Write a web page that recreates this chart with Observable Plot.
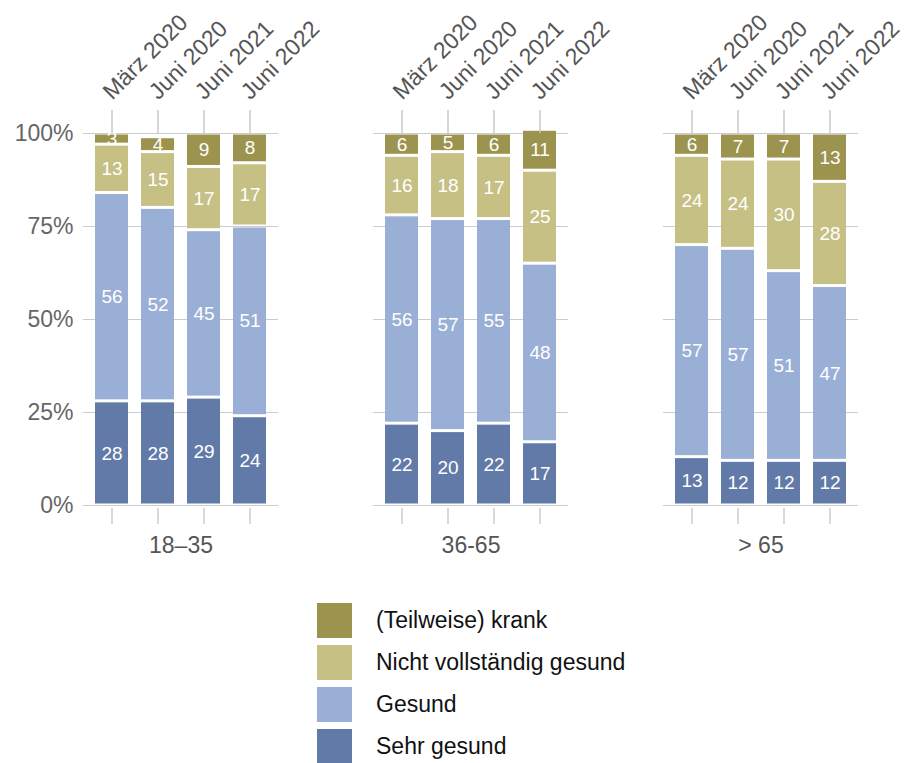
<!DOCTYPE html>
<html><head><meta charset="utf-8">
<script src="https://cdn.jsdelivr.net/npm/d3@7"></script>
<script src="https://cdn.jsdelivr.net/npm/@observablehq/plot@0.6"></script>
<style>
body{margin:0;background:#fff;font-family:"Liberation Sans",Helvetica,Arial,sans-serif}
#legend{margin-left:317px;margin-top:13px}
.row{display:flex;align-items:center;height:35px;margin-bottom:7px}
.sw{width:35px;height:35px;margin-right:24px}
.lb{font-size:23px;color:#111}
</style>
</head><body><div id="chart"></div><div id="legend"></div><script>
const groups = ["18–35","36-65","> 65"];
const dates = ["März 2020","Juni 2020","Juni 2021","Juni 2022"];
const categories = ["Sehr gesund","Gesund","Nicht vollständig gesund","(Teilweise) krank"];
const colors = ["#627aa7","#9aafd5","#c6c084","#9c944e"];
const sehrGesund = [[28,28,29,24],[22,20,22,17],[13,12,12,12]];
const gesund = [[56,52,45,51],[56,57,55,48],[57,57,51,47]];
const nichtVoll = [[13,15,17,17],[16,18,17,25],[24,24,30,28]];
const krank = [[3,4,9,8],[6,5,6,11],[6,7,7,13]];
const yTicks = [0,25,50,75,100];
const legendOrder = ["(Teilweise) krank","Nicht vollständig gesund","Gesund","Sehr gesund"];

const series = [sehrGesund, gesund, nichtVoll, krank];
const data = [];
groups.forEach((g, gi) => dates.forEach((d, di) => series.forEach((s, ci) => {
  data.push({group: g, date: d, category: categories[ci], value: s[gi][di]});
})));
const tickRows = [];
groups.forEach(g => dates.forEach(d => tickRows.push({group: g, date: d})));

const font = '"Liberation Sans",Helvetica,Arial,sans-serif';
const chart = Plot.plot({
  width: 904, height: 590,
  marginLeft: 82, marginRight: 46, marginTop: 133, marginBottom: 85,
  style: {fontFamily: font, fontSize: "23px", color: "#666", background: "#fff"},
  fx: {domain: groups, paddingInner: 0.328, paddingOuter: 0, label: null},
  x: {domain: dates, paddingInner: 0.287, paddingOuter: 0.25, label: null},
  y: {domain: [0, 100], label: null},
  color: {domain: categories, range: colors},
  marks: [
    Plot.gridY(yTicks, {stroke: "#cccccc", strokeOpacity: 1}),
    Plot.axisX({anchor: "bottom", tickSize: 16, tickFormat: () => "", stroke: "#cccccc", strokeOpacity: 1, strokeWidth: 1.5, dy: 3}),
    Plot.barY(data, {fx: "group", x: "date", y: "value", fill: "category", insetTop: 1.5, insetBottom: 1.5}),
    Plot.text(data, Plot.stackY({fx: "group", x: "date", y: "value", z: "category", text: "value", fill: "white", fontSize: 19})),
    Plot.axisY(yTicks, {tickSize: 0, tickPadding: 10, tickFormat: d => d + "%", fill: "#666", fontSize: 23}),
    Plot.axisX({anchor: "top", tickSize: 0, tickRotate: -45, tickPadding: 38, dx: -5, fill: "#555", textAnchor: "start", fontSize: 23}),
    Plot.axisFx({anchor: "bottom", tickSize: 0, tickPadding: 31, fill: "#555", fontSize: 23}),
    Plot.ruleX(tickRows, {fx: "group", x: "date", y1: 100, y2: 106.2, stroke: "#c8c8c8", strokeWidth: 1.5, strokeOpacity: 1})
  ]
});
document.getElementById("chart").appendChild(chart);

const leg = document.getElementById("legend");
legendOrder.forEach(c => {
  const row = document.createElement("div"); row.className = "row";
  const sw = document.createElement("div"); sw.className = "sw";
  sw.style.background = colors[categories.indexOf(c)];
  const lb = document.createElement("div"); lb.className = "lb"; lb.textContent = c;
  row.appendChild(sw); row.appendChild(lb); leg.appendChild(row);
});
</script></body></html>
